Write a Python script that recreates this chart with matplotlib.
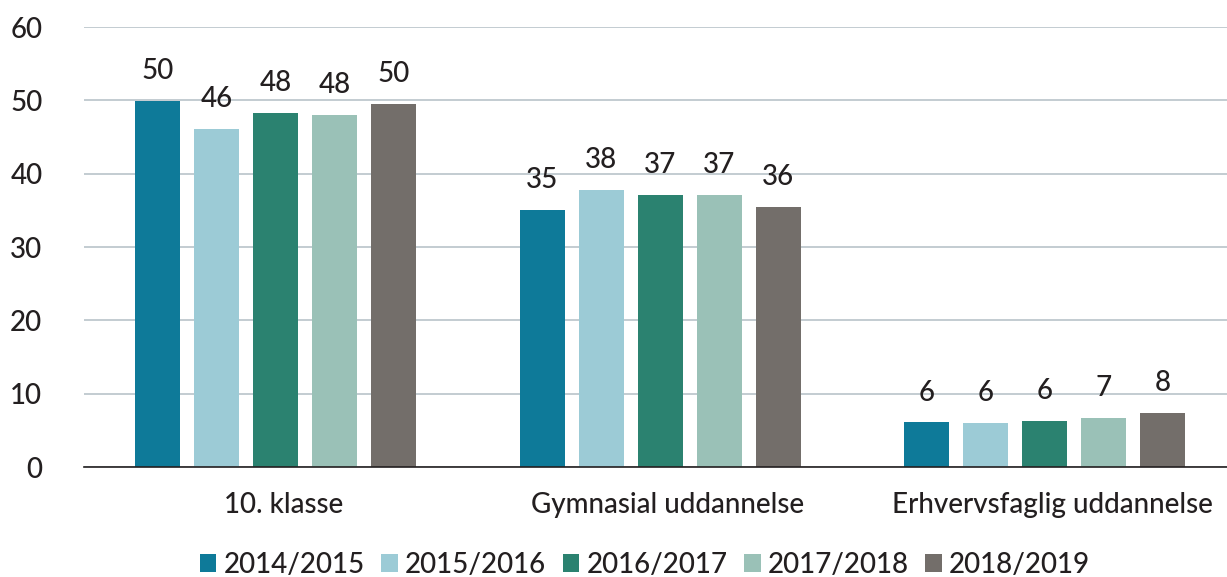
import matplotlib
matplotlib.use("Agg")
import matplotlib.pyplot as plt
import numpy as np

plt.rcParams['font.family'] = ['Lato', 'DejaVu Sans']
plt.rcParams['font.weight'] = 'medium'

categories = ["10. klasse", "Gymnasial uddannelse", "Erhvervsfaglig uddannelse"]
series_names = ["2014/2015", "2015/2016", "2016/2017", "2017/2018", "2018/2019"]
values = [
    [49.9, 35.1, 6.1],
    [46.1, 37.8, 6.0],
    [48.3, 37.1, 6.3],
    [48.0, 37.1, 6.7],
    [49.5, 35.5, 7.4],
]
labels = [
    ["50", "35", "6"],
    ["46", "38", "6"],
    ["48", "37", "6"],
    ["48", "37", "7"],
    ["50", "36", "8"],
]
colors = ["#0E7A99", "#9CCBD6", "#2B8270", "#9AC1B7", "#736E6A"]
yticks = [0, 10, 20, 30, 40, 50, 60]

FS = 20
TXT = '#231F20'
fig = plt.figure(figsize=(12.27, 5.77), dpi=100)
ax = fig.add_axes([84/1227, 1-467/577, 1143/1227, 440/577])

x = np.arange(len(categories))
unit = 384.5
width = 45/unit
step = 59/unit
for i, (name, vals, labs, c) in enumerate(zip(series_names, values, labels, colors)):
    pos = x + (i - 2) * step
    bars = ax.bar(pos, vals, width=width, color=c, label=name, zorder=3)
    for b, v, l in zip(bars, vals, labs):
        ax.annotate(l, (b.get_x() + b.get_width()/2, v), xytext=(0, 12),
                    textcoords='offset points', ha='center', va='bottom',
                    fontsize=FS, color=TXT)

ax.set_xlim(-191.5/unit, (1227-275.5)/unit)
ax.set_ylim(0, 60)
ax.set_yticks(yticks)
ax.set_yticklabels([str(t) for t in yticks], fontsize=FS, color=TXT)
ax.set_xticks(x + 8/unit)
ax.set_xticklabels(categories, fontsize=FS, color=TXT)
ax.tick_params(axis='y', length=0, pad=30)
ax.tick_params(axis='x', length=0, pad=18)
ax.grid(axis='y', color='#B9C3C9', linewidth=1.2, zorder=0)
for s in ['top', 'right', 'left']:
    ax.spines[s].set_visible(False)
ax.spines['bottom'].set_color(TXT)
ax.spines['bottom'].set_linewidth(1.2)
ax.spines['bottom'].set_zorder(4)

leg = fig.legend(loc='center', bbox_to_anchor=(645/1227, 1-565/577), ncol=5, frameon=False,
                 fontsize=FS, handlelength=0.6, handleheight=0.6, handletextpad=0.25,
                 columnspacing=0.6)
for t in leg.get_texts():
    t.set_color(TXT)

fig.savefig("out.png", dpi=100)
